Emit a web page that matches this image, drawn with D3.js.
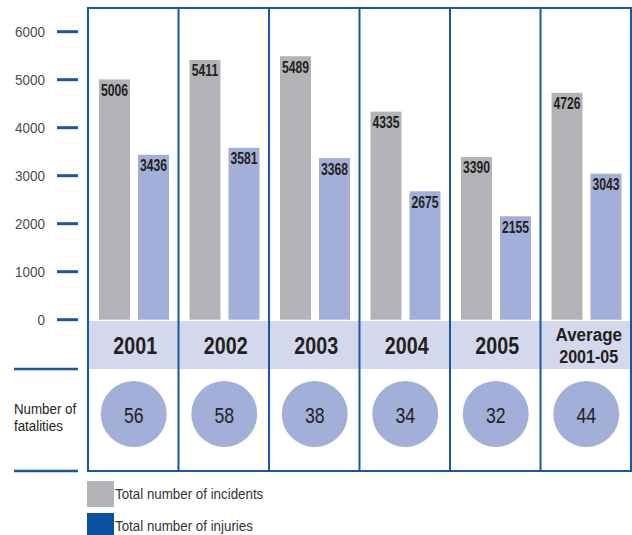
<!DOCTYPE html>
<html><head><meta charset="utf-8">
<script src="https://cdn.jsdelivr.net/npm/d3@7"></script>
<style>
body{margin:0;background:#fff;}
svg text{font-family:"Liberation Sans",Arial,sans-serif;}
</style></head>
<body><svg id="c" width="632" height="535"></svg>
<script>
const categories = ["2001","2002","2003","2004","2005","Average 2001-05"];
const incidents = [5006,5411,5489,4335,3390,4726];
const injuries = [3436,3581,3368,2675,2155,3043];
const fatalities = [56,58,38,34,32,44];
const yTicks = [0,1000,2000,3000,4000,5000,6000];
const legendLabels = ["Total number of incidents","Total number of injuries"];

const BLUE = "#1a56a4", GRAY = "#b1b3b6", LBLUE = "#a2afd8", BAND = "#d4d8ec", DARK = "#231f20";
const SX = 0.8; // condensed look
const svg = d3.select("#c");

const x = d3.scaleBand().domain(categories).range([88, 631]);
const y = d3.scaleLinear().domain([0, 6000]).range([319.7, 31.7]);
const bw = 31;

function txt(sel, data, fx, fy, ft, o) {
  return sel.append("g").selectAll("text").data(data).join("text")
    .attr("transform", (d,i) => `translate(${fx(d,i)},${fy(d,i)}) scale(${o.sx || SX},1)`)
    .attr("text-anchor", o.anchor || "start")
    .attr("font-size", o.size).attr("font-weight", o.weight || "normal")
    .attr("fill", o.fill || DARK).text(ft);
}

// year band
svg.append("rect").attr("x", 88).attr("y", 321).attr("width", 543).attr("height", 48).attr("fill", BAND);

// bars
svg.selectAll(".inc").data(categories).join("rect")
  .attr("x", d => x(d) + 11).attr("width", bw)
  .attr("y", (d,i) => y(incidents[i])).attr("height", (d,i) => y(0) - y(incidents[i]))
  .attr("fill", GRAY);
svg.selectAll(".inj").data(categories).join("rect")
  .attr("x", d => x(d) + 50).attr("width", bw)
  .attr("y", (d,i) => y(injuries[i])).attr("height", (d,i) => y(0) - y(injuries[i]))
  .attr("fill", LBLUE);

// value labels
txt(svg, categories, d => x(d) + 11 + bw/2, (d,i) => y(incidents[i]) + 16.5, (d,i) => incidents[i],
  {anchor:"middle", size:16, weight:"bold", sx:0.76});
txt(svg, categories, d => x(d) + 50 + bw/2, (d,i) => y(injuries[i]) + 16.5, (d,i) => injuries[i],
  {anchor:"middle", size:16, weight:"bold", sx:0.76});

// y axis ticks
const ax = svg.append("g");
ax.selectAll("line").data(yTicks).join("line")
  .attr("x1", 57).attr("x2", 78).attr("y1", d => y(d)).attr("y2", d => y(d))
  .attr("stroke", BLUE).attr("stroke-width", 3);
txt(ax, yTicks, d => 45, d => y(d) + 5.5, d => d, {anchor:"end", size:15, fill:"#4d4d4d", sx:0.9});

// left rules
[369, 471].forEach(yy => svg.append("line").attr("x1", 14).attr("x2", 78)
  .attr("y1", yy).attr("y2", yy).attr("stroke", BLUE).attr("stroke-width", 2.5));

// year labels
txt(svg, categories.slice(0,5), d => x(d) + x.bandwidth()/2 + 2, d => 353.5, d => d,
  {anchor:"middle", size:24, weight:"bold", sx:0.82});
const avg = categories[5].split(" ");
const ac = x(categories[5]) + x.bandwidth()/2 + 3;
txt(svg, [avg[0]], d => ac, d => 341, d => d, {anchor:"middle", size:18.5, weight:"bold", sx:0.92});
txt(svg, [avg[1]], d => ac, d => 362.7, d => d, {anchor:"middle", size:17.5, weight:"bold", sx:0.92});

// fatalities circles
const cx = d => x(d) + x.bandwidth()/2 + 0.5;
svg.append("g").selectAll("circle").data(categories).join("circle")
  .attr("cx", cx).attr("cy", 414).attr("r", 33).attr("fill", LBLUE);
txt(svg, categories, cx, d => 422.5, (d,i) => fatalities[i], {anchor:"middle", size:22});
txt(svg, ["Number of","fatalities"], d => 14, (d,i) => 414.3 + i*16.7, d => d, {size:15.5, sx:0.86});

// frame
svg.append("rect").attr("x", 88).attr("y", 8).attr("width", 543).attr("height", 463)
  .attr("fill", "none").attr("stroke", BLUE).attr("stroke-width", 2);
svg.append("g").selectAll("line").data(categories.slice(1)).join("line")
  .attr("x1", d => x(d)).attr("x2", d => x(d)).attr("y1", 8).attr("y2", 471)
  .attr("stroke", BLUE).attr("stroke-width", 2);

// legend
const lg = svg.append("g");
const lc = [GRAY, "#0a51a1"];
lg.selectAll("rect").data(lc).join("rect")
  .attr("x", 87).attr("y", (d,i) => 481 + i*32).attr("width", 27).attr("height", 26).attr("fill", d => d);
txt(lg, legendLabels, d => 115, (d,i) => 499.3 + i*31.7, d => d, {size:15, fill:"#333", sx:0.89});
</script></body></html>
